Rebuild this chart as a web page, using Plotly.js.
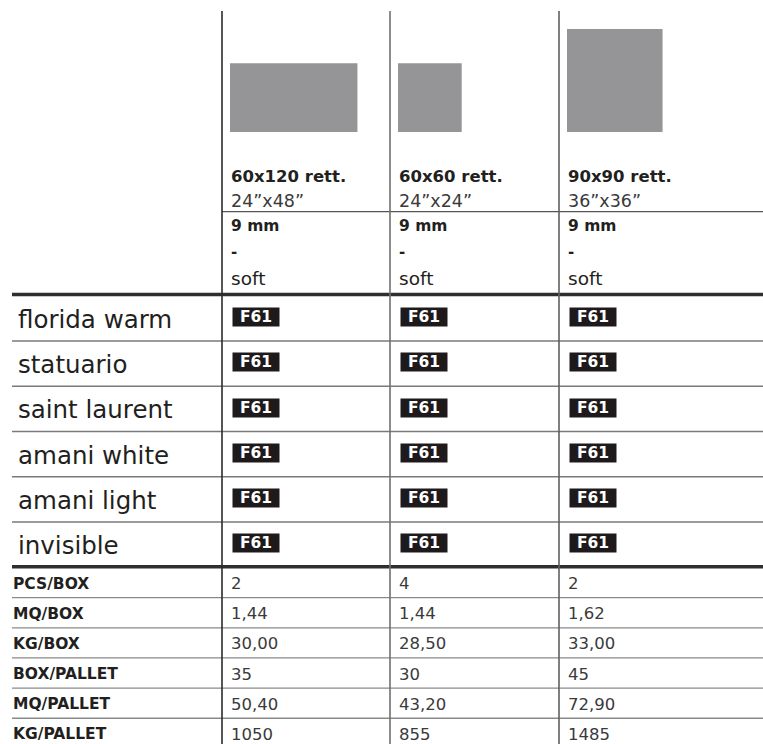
<!DOCTYPE html>
<html>
<head>
<meta charset="utf-8">
<script src="https://cdn.plot.ly/plotly-3.0.1.min.js"></script>
<style>html,body{margin:0;padding:0;background:#fff;}#chart{width:763px;height:744px;}</style>
</head>
<body>
<div id="chart"></div>
<script>
// ---- data ----
const formats = ['60x120 rett.', '60x60 rett.', '90x90 rett.'];
const inches = ['24\u201dx48\u201d', '24\u201dx24\u201d', '36\u201dx36\u201d'];
const tileW = [120, 60, 90];   // cm
const tileH = [60, 60, 90];    // cm
const thickness = ['9 mm', '9 mm', '9 mm'];
const dashes = ['-', '-', '-'];
const finishes = ['soft', 'soft', 'soft'];
const materials = ['florida warm', 'statuario', 'saint laurent', 'amani white', 'amani light', 'invisible'];
const codes = [
  ['F61', 'F61', 'F61'],
  ['F61', 'F61', 'F61'],
  ['F61', 'F61', 'F61'],
  ['F61', 'F61', 'F61'],
  ['F61', 'F61', 'F61'],
  ['F61', 'F61', 'F61']
];
const specLabels = ['PCS/BOX', 'MQ/BOX', 'KG/BOX', 'BOX/PALLET', 'MQ/PALLET', 'KG/PALLET'];
const specValues60x120 = ['2', '1,44', '30,00', '35', '50,40', '1050'];
const specValues60x60 = ['4', '1,44', '28,50', '30', '43,20', '855'];
const specValues90x90 = ['2', '1,62', '33,00', '45', '72,90', '1485'];

// ---- layout geometry (pixel-space axes) ----
const W = 763, H = 744;
const FONT = 'DejaVu Sans, sans-serif';
const TXT = '#231f20';
const colX = [222, 390, 559];
const specCols = [specValues60x120, specValues60x60, specValues90x90];
const sx = 1.062, sy = 1.145;
const tileBottom = 132;
const thick1 = 294.5, thick2 = 566.7;
const matTop = 295.75, matH = 45.25;
const specTop = 567.5, specH = 30.15;

const shapes = [];
const ann = [];
function line(x0, y0, x1, y1, color, width) {
  shapes.push({type: 'line', xref: 'x', yref: 'y', x0, y0, x1, y1, line: {color, width}});
}
function text(x, y, t, size, opts) {
  opts = opts || {};
  ann.push({
    xref: 'x', yref: 'y', x, y, text: t, showarrow: false,
    xanchor: 'left', yanchor: 'middle', borderpad: 0,
    font: {family: FONT, size, color: opts.color || TXT, weight: opts.bold ? 700 : 400}
  });
}

// tiles + header texts
formats.forEach((f, i) => {
  const x0 = colX[i] + 8;
  shapes.push({type: 'rect', xref: 'x', yref: 'y', x0, x1: x0 + tileW[i] * sx,
    y0: tileBottom - tileH[i] * sy, y1: tileBottom,
    fillcolor: '#959598', line: {width: 0}, layer: 'below'});
  const tx = colX[i] + 8;
  text(tx, 176, f, 16.5, {bold: true});
  text(tx, 201, inches[i], 17.5, {color: '#3a3a3a'});
  text(tx, 226, thickness[i], 15.5, {bold: true});
  text(tx, 252, dashes[i], 15, {bold: true});
  text(tx, 278, finishes[i], 18.5);
});

// header separator under inches
line(colX[0], 211.7, W, 211.7, '#555', 1.2);

// material rows
materials.forEach((m, r) => {
  const yc = matTop + matH * (r + 0.5);
  text(17, yc + 1, m, 24.5);
  codes[r].forEach((c, i) => {
    ann.push({xref: 'x', yref: 'y', x: colX[i] + 10, y: yc - 1.3, xanchor: 'left', yanchor: 'middle',
      text: '<b>' + c + '</b>', showarrow: false, width: 46, height: 18, align: 'center',
      bgcolor: '#1e1a1b', borderpad: 0, font: {family: FONT, size: 15.5, color: '#ffffff'}});
  });
  if (r < materials.length - 1) line(12, matTop + matH * (r + 1), W, matTop + matH * (r + 1), '#7a7a7a', 1.3);
});

// spec rows
specLabels.forEach((s, r) => {
  const yc = specTop + specH * (r + 0.5) + 1;
  text(12, yc, s, 15.5, {bold: true});
  specCols.forEach((vals, i) => text(colX[i] + 8, yc, vals[r], 16.5, {color: '#3a3a3a'}));
  if (r < specLabels.length - 1) line(12, specTop + specH * (r + 1), W, specTop + specH * (r + 1), '#8a8a8a', 1.3);
});

// thick separators
line(12, thick1, W, thick1, '#2f2f2f', 3.5);
line(12, thick2, W, thick2, '#2f2f2f', 3.5);

// vertical column lines
const vColors = ['#2b2b2b', '#707070', '#606060'];
colX.forEach((x, i) => line(x, 11, x, H, vColors[i], 1.6));

// invisible anchor trace so axes exist
const traces = [{type: 'scatter', mode: 'markers', x: [0, W], y: [0, H], marker: {opacity: 0}, hoverinfo: 'skip', showlegend: false}];

Plotly.newPlot('chart', traces, {
  width: W, height: H,
  margin: {l: 0, r: 0, t: 0, b: 0},
  paper_bgcolor: '#fff', plot_bgcolor: '#fff',
  xaxis: {range: [0, W], visible: false, fixedrange: true},
  yaxis: {range: [H, 0], visible: false, fixedrange: true},
  shapes, annotations: ann, showlegend: false
}, {displayModeBar: false, staticPlot: true});
</script>
</body>
</html>
